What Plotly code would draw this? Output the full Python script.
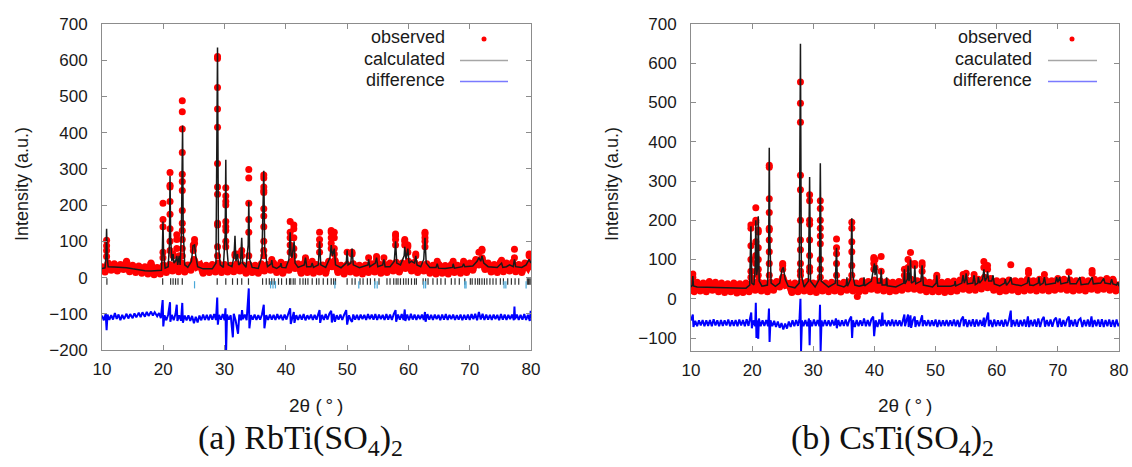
import plotly.graph_objects as go

W, H = 1132, 467

# ---------------- (a) RbTi(SO4)2 ----------------
rb_obs_base = [
    (10.0, 30), (10.5, 15), (11.0, 40), (11.5, 20), (12.0, 38), (12.5, 18), (13.0, 36), (13.5, 22),
    (14.0, 45), (14.5, 16), (15.0, 34), (15.5, 14), (16.0, 32), (16.5, 12), (17.0, 30), (17.5, 10),
    (18.0, 40), (18.5, 8), (19.0, 28), (19.5, 10), (20.0, 35), (20.5, 14), (21.0, 36), (21.5, 18),
    (22.0, 38), (22.5, 16), (23.0, 40), (23.5, 15), (24.0, 35), (24.5, 20), (25.0, 50), (25.5, 30),
    (26.0, 35), (26.5, 12), (27.0, 34), (27.5, 14), (28.0, 36), (28.5, 15), (29.0, 40), (29.5, 14),
    (30.0, 36), (30.5, 15), (31.0, 34), (31.5, 16), (32.0, 38), (32.5, 18), (33.0, 35), (33.5, 12),
    (34.0, 36), (34.5, 14), (35.0, 34), (35.5, 12), (36.0, 38), (36.5, 18), (37.0, 36), (37.5, 20),
    (38.0, 40), (38.5, 14), (39.0, 35), (39.5, 12), (40.0, 36), (40.5, 20), (41.0, 45), (41.5, 25),
    (42.0, 38), (42.5, 12), (43.0, 40), (43.5, 14), (44.0, 38), (44.5, 12), (45.0, 36), (45.5, 15),
    (46.0, 35), (46.5, 12), (47.0, 45), (47.5, 30), (48.0, 48), (48.5, 14), (49.0, 34), (49.5, 10),
    (50.0, 36), (50.5, 15), (51.0, 38), (51.5, 12), (52.0, 34), (52.5, 10), (53.0, 35), (53.5, 14),
    (54.0, 38), (54.5, 15), (55.0, 40), (55.5, 12), (56.0, 38), (56.5, 14), (57.0, 40), (57.5, 18),
    (58.0, 42), (58.5, 15), (59.0, 40), (59.5, 25), (60.0, 45), (60.5, 18), (61.0, 42), (61.5, 14),
    (62.0, 36), (62.5, 18), (63.0, 38), (63.5, 12), (64.0, 34), (64.5, 10), (65.0, 36), (65.5, 12),
    (66.0, 33), (66.5, 10), (67.0, 36), (67.5, 14), (68.0, 34), (68.5, 12), (69.0, 38), (69.5, 14),
    (70.0, 40), (70.5, 20), (71.0, 50), (71.5, 35), (72.0, 55), (72.5, 22), (73.0, 40), (73.5, 15),
    (74.0, 36), (74.5, 14), (75.0, 42), (75.5, 16), (76.0, 40), (76.5, 18), (77.0, 42), (77.5, 16),
    (78.0, 36), (78.5, 14), (79.0, 40), (79.5, 28), (80.0, 45),
]

# observed points climbing the Bragg peaks: 2theta -> intensities
rb_obs_peaks = {
    10.75: [103, 88, 75, 58], 19.95: [205, 160, 140, 70, 55],
    21.1: [290, 255, 250, 210, 175, 135, 100, 75], 21.6: [65, 60], 22.2: [118, 105, 80], 22.6: [60, 55],
    23.1: [488, 458, 410, 345, 285, 265, 240, 185, 150, 130, 105, 80, 60],
    24.9: [90, 85, 75], 25.1: [105, 95],
    28.85: [610, 605, 525, 465, 415, 315, 250, 230, 150, 145, 85, 60],
    30.2: [248, 225, 210, 200, 155, 140, 130, 100, 85], 31.7: [65, 60], 32.1: [65], 32.8: [75, 60],
    33.95: [298, 275, 205, 160, 125, 60],
    36.4: [283, 275, 250, 240, 235, 190, 170, 140, 100, 75, 60], 37.7: [50], 39.2: [42],
    40.7: [155, 125, 110, 90, 70], 41.3: [145, 135, 110, 80, 60], 43.2: [55, 50], 44.3: [45],
    45.5: [125, 105, 90, 70], 47.4: [130, 125, 110, 95, 80], 47.9: [125, 110, 80, 65],
    50.0: [70], 50.8: [70, 65], 53.5: [55], 54.8: [58, 50], 56.0: [55],
    57.9: [120, 115, 105, 90], 59.4: [105, 100, 90], 59.9: [90, 85, 70], 61.2: [65, 60],
    62.7: [125, 120, 110, 100, 85], 64.7: [45], 67.3: [45], 69.0: [45],
    71.5: [70], 72.0: [78, 75], 75.2: [48], 77.3: [78, 55], 79.7: [65, 60],
}

rb_calc = [
    (10.0, 25), (10.5, 27), (10.65, 60), (10.75, 135), (10.85, 55), (11.0, 30), (12.0, 29), (13.0, 29),
    (14.0, 27), (15.0, 24), (16.0, 21), (17.0, 19), (18.0, 18), (19.0, 18), (19.7, 20), (19.85, 80),
    (19.95, 155), (20.05, 70), (20.3, 26), (20.8, 30), (21.0, 90), (21.1, 280), (21.2, 110), (21.4, 45),
    (21.6, 65), (21.75, 40), (22.0, 45), (22.2, 60), (22.35, 35), (22.6, 60), (22.75, 35), (22.95, 120),
    (23.05, 410), (23.15, 420), (23.25, 130), (23.5, 35), (24.0, 28), (24.6, 45), (24.85, 88), (25.1, 90),
    (25.3, 60), (25.6, 30), (26.5, 24), (28.0, 24), (28.6, 40), (28.85, 635), (29.0, 90), (29.3, 35),
    (29.8, 28), (30.1, 120), (30.2, 325), (30.3, 100), (30.6, 35), (31.2, 30), (31.55, 60), (31.7, 115),
    (31.85, 45), (32.1, 65), (32.3, 35), (32.6, 40), (32.8, 110), (32.95, 40), (33.5, 28), (33.85, 90),
    (33.95, 210), (34.1, 50), (34.5, 28), (35.5, 25), (36.1, 60), (36.3, 200), (36.4, 295), (36.55, 80),
    (37.0, 30), (37.6, 38), (37.7, 48), (37.85, 30), (38.5, 25), (39.1, 32), (39.2, 40), (39.35, 28),
    (40.0, 27), (40.5, 50), (40.7, 125), (40.85, 60), (41.0, 55), (41.2, 80), (41.35, 100), (41.5, 40),
    (42.0, 28), (43.0, 35), (43.2, 55), (43.4, 30), (44.1, 30), (44.3, 40), (44.5, 28), (45.3, 35),
    (45.5, 100), (45.7, 35), (46.5, 28), (47.2, 55), (47.4, 90), (47.6, 60), (47.9, 80), (48.1, 35),
    (49.0, 27), (49.85, 40), (50.0, 75), (50.15, 35), (50.6, 40), (50.8, 80), (51.0, 35), (52.0, 27),
    (53.4, 35), (53.5, 50), (53.7, 30), (54.6, 40), (54.8, 55), (55.0, 30), (55.8, 35), (56.0, 50),
    (56.2, 30), (57.0, 30), (57.7, 45), (57.9, 100), (58.1, 40), (58.7, 35), (59.3, 60), (59.4, 85),
    (59.6, 50), (59.9, 80), (60.1, 40), (60.5, 45), (61.0, 40), (61.2, 60), (61.4, 35), (62.0, 30),
    (62.5, 50), (62.7, 110), (62.9, 40), (63.5, 28), (64.5, 28), (64.7, 38), (64.9, 26), (66.0, 25),
    (67.2, 28), (67.3, 38), (67.5, 26), (68.8, 30), (69.0, 38), (69.2, 30), (70.5, 32), (71.2, 45),
    (71.5, 55), (71.8, 45), (72.0, 60), (72.3, 40), (73.0, 30), (74.5, 28), (75.2, 40), (75.4, 28),
    (76.0, 30), (76.5, 35), (77.1, 30), (77.3, 50), (77.5, 30), (78.5, 28), (79.2, 35), (79.7, 50),
    (80.0, 40),
]

rb_diff = [
    (10.0, -105), (10.3, -118), (10.6, -100), (10.75, -145), (10.9, -102), (11.2, -117), (11.5, -104),
    (11.8, -116), (12.1, -98), (12.4, -114), (12.7, -102), (13.0, -118), (13.3, -103), (13.6, -115),
    (14.0, -100), (14.3, -113), (14.6, -101), (15.0, -112), (15.3, -99), (15.6, -110), (16.0, -97),
    (16.3, -109), (16.6, -96), (17.0, -108), (17.3, -95), (17.6, -106), (18.0, -94), (18.3, -105),
    (18.6, -96), (19.0, -107), (19.3, -98), (19.6, -112), (19.9, -62), (20.0, -135), (20.2, -104),
    (20.5, -118), (20.8, -102), (21.1, -68), (21.15, -122), (21.4, -103), (21.7, -118), (22.0, -100),
    (22.2, -75), (22.3, -120), (22.6, -104), (22.9, -119), (23.1, -70), (23.2, -125), (23.5, -105),
    (23.8, -118), (24.1, -104), (24.4, -120), (24.7, -106), (25.0, -126), (25.3, -108), (25.6, -124),
    (25.9, -105), (26.2, -118), (26.5, -102), (26.8, -117), (27.1, -103), (27.4, -118), (27.7, -102),
    (28.0, -116), (28.3, -101), (28.6, -117), (28.8, -55), (28.9, -130), (29.1, -103), (29.4, -116),
    (29.7, -101), (30.0, -118), (30.15, -85), (30.25, -205), (30.4, -102), (30.7, -116), (31.0, -104),
    (31.35, -165), (31.5, -100), (31.8, -118), (32.2, -155), (32.4, -102), (32.7, -118), (32.85, -90),
    (33.0, -115), (33.3, -102), (33.6, -118), (33.95, -30), (34.05, -140), (34.3, -104), (34.6, -116),
    (34.9, -102), (35.2, -117), (35.5, -104), (35.8, -116), (36.1, -102), (36.4, -75), (36.5, -140),
    (36.8, -104), (37.1, -117), (37.4, -102), (37.7, -116), (38.0, -103), (38.3, -117), (38.6, -101),
    (38.9, -115), (39.2, -103), (39.5, -118), (39.8, -102), (40.1, -116), (40.4, -100), (40.7, -85),
    (40.8, -128), (41.1, -102), (41.3, -95), (41.4, -125), (41.7, -104), (42.0, -117), (42.3, -103),
    (42.6, -116), (42.9, -101), (43.2, -118), (43.5, -104), (43.8, -115), (44.1, -102), (44.4, -117),
    (44.7, -103), (45.0, -116), (45.3, -101), (45.5, -90), (45.6, -125), (45.9, -103), (46.2, -117),
    (46.5, -101), (46.8, -116), (47.1, -100), (47.4, -92), (47.5, -124), (47.8, -100), (48.0, -122),
    (48.3, -104), (48.6, -116), (48.9, -102), (49.2, -117), (49.5, -103), (49.85, -90), (50.0, -130),
    (50.3, -104), (50.6, -118), (50.8, -122), (51.0, -102), (51.3, -116), (51.6, -103), (51.9, -117),
    (52.2, -102), (52.5, -115), (52.8, -103), (53.1, -117), (53.4, -101), (53.7, -115), (54.0, -102),
    (54.3, -116), (54.6, -101), (54.9, -117), (55.2, -102), (55.5, -115), (55.8, -103), (56.1, -117),
    (56.4, -101), (56.7, -116), (57.0, -102), (57.3, -117), (57.6, -101), (57.9, -90), (58.0, -122),
    (58.3, -102), (58.6, -116), (58.9, -101), (59.2, -117), (59.4, -88), (59.5, -120), (59.8, -102),
    (60.1, -118), (60.4, -100), (60.7, -116), (61.0, -102), (61.3, -117), (61.6, -103), (61.9, -115),
    (62.2, -102), (62.5, -117), (62.7, -95), (62.8, -122), (63.1, -101), (63.4, -116), (63.7, -103),
    (64.0, -117), (64.3, -102), (64.6, -115), (64.9, -103), (65.2, -118), (65.5, -102), (65.8, -116),
    (66.1, -101), (66.4, -117), (66.7, -103), (67.0, -115), (67.3, -102), (67.6, -117), (67.9, -104),
    (68.2, -116), (68.5, -102), (68.8, -118), (69.1, -103), (69.4, -116), (69.7, -102), (70.0, -117),
    (70.3, -101), (70.6, -115), (70.9, -100), (71.2, -118), (71.5, -95), (71.8, -116), (72.1, -100),
    (72.4, -117), (72.7, -102), (73.0, -116), (73.3, -103), (73.6, -117), (73.9, -102), (74.2, -115),
    (74.5, -103), (74.8, -118), (75.1, -101), (75.4, -116), (75.7, -102), (76.0, -117), (76.3, -103),
    (76.6, -115), (76.9, -102), (77.2, -118), (77.3, -80), (77.4, -115), (77.7, -102), (78.0, -117),
    (78.3, -103), (78.6, -116), (78.9, -101), (79.2, -117), (79.5, -103), (79.8, -120), (79.95, -92),
    (80.0, -112),
]

# Bragg reflection markers (main phase, second phase)
rb_hkl_main = [
    10.8, 19.9, 21.2, 21.6, 22.0, 22.4, 23.1, 28.8, 30.2, 31.3, 32.1, 32.8, 33.9, 36.2, 36.8, 37.3,
    37.7, 38.1, 38.8, 39.3, 40.1, 40.6, 40.8, 41.2, 41.5, 42.3, 42.8, 43.2, 43.6, 44.3, 45.0, 45.4,
    46.1, 46.8, 47.4, 47.8, 48.1, 50.0, 50.8, 51.3, 52.1, 52.6, 53.3, 53.8, 54.5, 55.2, 56.5, 57.0,
    57.6, 58.0, 58.3, 58.7, 59.2, 59.6, 60.0, 60.5, 61.0, 61.3, 62.4, 62.8, 63.2, 64.0, 64.7, 65.3,
    66.0, 67.0, 67.6, 68.3, 69.2, 70.1, 70.4, 70.9, 71.3, 71.6, 72.0, 72.4, 72.8, 73.3, 73.8, 74.3,
    75.0, 75.5, 76.2, 76.8, 77.4, 78.0, 79.4, 79.6, 79.8, 80.0,
]
rb_hkl_second = [25.1, 37.5, 37.9, 38.3, 48.0, 51.9, 54.5, 54.9, 62.5, 62.8, 69.2, 69.4, 75.6, 75.9, 79.2]

# ---------------- (b) CsTi(SO4)2 ----------------
cs_obs_base = [
    (10.0, 40), (10.5, 18), (11.0, 42), (11.5, 20), (12.0, 40), (12.5, 18), (13.0, 44), (13.5, 22),
    (14.0, 42), (14.5, 18), (15.0, 40), (15.5, 16), (16.0, 38), (16.5, 18), (17.0, 40), (17.5, 15),
    (18.0, 38), (18.5, 16), (19.0, 40), (19.5, 18), (20.0, 42), (20.5, 22), (21.0, 45), (21.5, 20),
    (22.0, 40), (22.5, 18), (23.0, 42), (23.5, 22), (24.0, 44), (24.5, 30), (25.0, 55), (25.5, 35),
    (26.0, 38), (26.5, 16), (27.0, 40), (27.5, 18), (28.0, 42), (28.5, 20), (29.0, 44), (29.5, 18),
    (30.0, 40), (30.5, 16), (31.0, 42), (31.5, 20), (32.0, 40), (32.5, 18), (33.0, 42), (33.5, 20),
    (34.0, 40), (34.5, 17), (35.0, 42), (35.5, 22), (36.0, 44), (36.5, 20), (37.0, 40), (37.5, 18),
    (38.0, 45), (38.5, 20), (39.0, 44), (39.5, 24), (40.0, 48), (40.5, 22), (41.0, 45), (41.5, 20),
    (42.0, 44), (42.5, 18), (43.0, 42), (43.5, 20), (44.0, 44), (44.5, 22), (45.0, 48), (45.5, 25),
    (46.0, 50), (46.5, 24), (47.0, 46), (47.5, 22), (48.0, 48), (48.5, 18), (49.0, 42), (49.5, 18),
    (50.0, 44), (50.5, 18), (51.0, 42), (51.5, 16), (52.0, 44), (52.5, 18), (53.0, 45), (53.5, 20),
    (54.0, 48), (54.5, 24), (55.0, 50), (55.5, 22), (56.0, 48), (56.5, 22), (57.0, 50), (57.5, 25),
    (58.0, 55), (58.5, 28), (59.0, 52), (59.5, 22), (60.0, 46), (60.5, 18), (61.0, 45), (61.5, 20),
    (62.0, 48), (62.5, 22), (63.0, 46), (63.5, 18), (64.0, 45), (64.5, 20), (65.0, 50), (65.5, 22),
    (66.0, 46), (66.5, 20), (67.0, 50), (67.5, 22), (68.0, 48), (68.5, 20), (69.0, 46), (69.5, 22),
    (70.0, 52), (70.5, 24), (71.0, 50), (71.5, 22), (72.0, 48), (72.5, 20), (73.0, 46), (73.5, 22),
    (74.0, 48), (74.5, 20), (75.0, 46), (75.5, 24), (76.0, 50), (76.5, 22), (77.0, 48), (77.5, 24),
    (78.0, 52), (78.5, 22), (79.0, 50), (79.5, 20), (80.0, 36),
]

cs_obs_peaks = {
    10.3: [63, 55], 19.8: [188, 180, 135, 100, 70, 55], 20.6: [232, 200, 195, 145, 110, 90, 70],
    21.0: [175, 170, 130, 100, 75, 60], 22.8: [340, 335, 255, 220, 180, 175, 150, 120, 90, 60],
    25.0: [90, 85, 75], 27.9: [552, 498, 450, 315, 278, 200, 150, 125, 90, 70, 60],
    29.4: [265, 250, 200, 190, 150, 110, 80, 70], 31.15: [250, 230, 200, 180, 160, 140, 100, 75, 55],
    33.8: [152, 130, 115, 90, 60], 36.3: [195, 180, 145, 120, 85, 60], 37.2: [6],
    39.9: [105, 100, 90, 75], 40.1: [100, 80], 41.1: [108, 70], 44.9: [75, 60], 45.5: [100, 80],
    45.9: [118, 90], 46.6: [90, 85], 47.8: [92, 85, 70], 50.2: [60, 55], 54.5: [62], 55.0: [65],
    56.3: [62], 57.9: [95, 80], 58.5: [85, 75], 62.3: [87], 65.2: [72, 65], 67.8: [62], 71.8: [68],
    75.6: [72, 65],
}

cs_calc = [
    (10.0, 30), (10.2, 35), (10.3, 58), (10.4, 33), (11.0, 30), (13.0, 29), (15.0, 28), (17.0, 27),
    (19.0, 27), (19.6, 35), (19.8, 185), (19.95, 40), (20.3, 35), (20.5, 80), (20.6, 200), (20.75, 60),
    (20.9, 80), (21.0, 210), (21.15, 45), (21.6, 32), (22.5, 35), (22.7, 120), (22.8, 385), (22.9, 150),
    (23.1, 40), (23.8, 32), (24.5, 40), (24.9, 75), (25.1, 80), (25.4, 50), (25.9, 32), (27.0, 28),
    (27.7, 40), (27.9, 650), (28.05, 60), (28.5, 30), (29.2, 45), (29.4, 310), (29.55, 45), (30.3, 30),
    (31.0, 50), (31.15, 345), (31.3, 45), (32.5, 30), (33.6, 40), (33.8, 130), (33.95, 35), (35.0, 30),
    (35.4, 35), (35.5, 55), (35.6, 32), (36.1, 50), (36.3, 205), (36.45, 60), (36.8, 35), (37.5, 32),
    (38.2, 35), (38.3, 55), (38.4, 33), (39.5, 45), (39.8, 80), (40.0, 90), (40.1, 60), (40.3, 85),
    (40.5, 40), (41.0, 40), (41.1, 75), (41.25, 35), (41.9, 35), (42.0, 55), (42.1, 33), (43.5, 30),
    (44.8, 40), (44.9, 75), (45.0, 38), (45.4, 50), (45.5, 85), (45.65, 45), (45.8, 55), (45.9, 100),
    (46.05, 40), (46.5, 45), (46.6, 85), (46.75, 38), (47.6, 45), (47.8, 85), (48.0, 35), (49.5, 30),
    (50.1, 40), (50.2, 60), (50.35, 32), (52.5, 32), (53.1, 35), (53.2, 45), (53.3, 33), (54.3, 40),
    (54.5, 60), (54.7, 40), (54.9, 50), (55.0, 65), (55.2, 38), (56.1, 40), (56.3, 60), (56.5, 36),
    (56.9, 40), (57.0, 55), (57.2, 40), (57.7, 50), (57.9, 75), (58.1, 45), (58.4, 55), (58.5, 70),
    (58.7, 45), (59.2, 45), (59.4, 60), (59.6, 38), (60.5, 33), (61.3, 40), (61.4, 50), (61.6, 34),
    (62.1, 45), (62.3, 55), (62.5, 38), (64.0, 33), (65.0, 40), (65.2, 55), (65.4, 35), (66.0, 34),
    (66.8, 40), (66.9, 55), (67.1, 35), (67.6, 40), (67.8, 55), (68.0, 36), (69.6, 40), (69.8, 55),
    (70.0, 42), (70.3, 55), (70.5, 38), (71.6, 42), (71.8, 60), (72.0, 38), (73.0, 38), (73.6, 55),
    (73.8, 36), (75.0, 38), (75.6, 55), (75.8, 38), (77.0, 40), (77.5, 52), (77.7, 40), (78.6, 38),
    (78.8, 50), (79.0, 38), (79.6, 35), (79.8, 42), (80.0, 32),
]

cs_diff = [
    (10.0, -55), (10.3, -40), (10.4, -72), (10.7, -56), (11.0, -70), (11.3, -55), (11.6, -68), (11.9, -54),
    (12.2, -70), (12.5, -55), (12.8, -69), (13.1, -54), (13.4, -70), (13.7, -52), (14.0, -68), (14.3, -55),
    (14.6, -70), (14.9, -54), (15.2, -69), (15.5, -55), (15.8, -68), (16.1, -53), (16.4, -70), (16.7, -55),
    (17.0, -69), (17.3, -54), (17.6, -70), (17.9, -53), (18.2, -68), (18.5, -54), (18.8, -70), (19.1, -52),
    (19.4, -69), (19.7, -50), (19.85, -35), (19.95, -75), (20.2, -55), (20.5, -70), (20.6, -10), (20.7, -100),
    (20.85, -55), (21.0, -102), (21.1, -50), (21.4, -70), (21.7, -55), (22.0, -69), (22.3, -54), (22.6, -70),
    (22.75, -25), (22.85, -110), (23.0, -55), (23.3, -70), (23.6, -56), (23.9, -72), (24.2, -58), (24.5, -74),
    (24.8, -62), (25.1, -78), (25.4, -63), (25.7, -76), (26.0, -58), (26.3, -72), (26.6, -55), (26.9, -70),
    (27.2, -54), (27.5, -69), (27.75, -50), (27.9, 0), (28.0, -133), (28.15, -55), (28.4, -70), (28.7, -54),
    (29.0, -70), (29.3, -50), (29.4, -118), (29.5, -55), (29.8, -70), (30.1, -53), (30.4, -69), (30.7, -54),
    (31.0, -70), (31.1, -15), (31.2, -133), (31.35, -55), (31.6, -70), (31.9, -54), (32.2, -69), (32.5, -55),
    (32.8, -70), (33.1, -54), (33.4, -68), (33.7, -50), (33.85, -75), (34.1, -54), (34.4, -70), (34.7, -55),
    (35.0, -69), (35.3, -53), (35.6, -70), (35.9, -54), (36.2, -45), (36.35, -100), (36.5, -55), (36.8, -72),
    (37.1, -54), (37.4, -70), (37.7, -55), (38.0, -69), (38.3, -50), (38.6, -70), (38.9, -54), (39.2, -70),
    (39.5, -52), (39.8, -45), (39.95, -95), (40.2, -55), (40.5, -72), (40.8, -53), (41.1, -70), (41.3, -35),
    (41.4, -68), (41.7, -54), (42.0, -70), (42.3, -55), (42.6, -69), (42.9, -53), (43.2, -70), (43.5, -54),
    (43.8, -69), (44.1, -55), (44.4, -70), (44.7, -52), (44.9, -40), (45.0, -70), (45.3, -53), (45.5, -40),
    (45.6, -72), (45.9, -42), (46.0, -74), (46.3, -54), (46.6, -45), (46.7, -72), (47.0, -55), (47.3, -70),
    (47.6, -53), (47.8, -42), (47.9, -70), (48.2, -55), (48.5, -69), (48.8, -54), (49.1, -70), (49.4, -55),
    (49.7, -69), (50.0, -53), (50.3, -72), (50.6, -54), (50.9, -70), (51.2, -55), (51.5, -69), (51.8, -54),
    (52.1, -70), (52.4, -55), (52.7, -69), (53.0, -53), (53.3, -70), (53.6, -54), (53.9, -72), (54.2, -53),
    (54.5, -45), (54.6, -70), (54.9, -52), (55.2, -72), (55.5, -54), (55.8, -70), (56.1, -52), (56.4, -71),
    (56.7, -53), (57.0, -70), (57.3, -54), (57.6, -69), (57.9, -48), (58.0, -72), (58.3, -53), (58.6, -35),
    (58.7, -70), (59.0, -54), (59.3, -72), (59.6, -53), (59.9, -70), (60.2, -55), (60.5, -69), (60.8, -54),
    (61.1, -71), (61.4, -53), (61.7, -70), (62.0, -54), (62.3, -30), (62.4, -72), (62.7, -54), (63.0, -70),
    (63.3, -53), (63.6, -71), (63.9, -54), (64.2, -70), (64.5, -53), (64.8, -71), (65.1, -45), (65.3, -72),
    (65.6, -54), (65.9, -70), (66.2, -53), (66.5, -71), (66.8, -50), (67.1, -72), (67.4, -54), (67.7, -46),
    (67.9, -71), (68.2, -54), (68.5, -70), (68.8, -53), (69.1, -71), (69.4, -54), (69.7, -48), (70.0, -72),
    (70.3, -50), (70.6, -71), (70.9, -54), (71.2, -70), (71.5, -53), (71.8, -45), (71.9, -72), (72.2, -54),
    (72.5, -70), (72.8, -53), (73.1, -71), (73.4, -54), (73.7, -50), (74.0, -72), (74.3, -54), (74.6, -70),
    (74.9, -53), (75.2, -71), (75.5, -45), (75.7, -72), (76.0, -54), (76.3, -70), (76.6, -53), (76.9, -71),
    (77.2, -52), (77.5, -72), (77.8, -54), (78.1, -70), (78.4, -53), (78.7, -71), (79.0, -54), (79.3, -72),
    (79.6, -53), (79.9, -70), (80.0, -62),
]

x_ticks = [10, 20, 30, 40, 50, 60, 70, 80]
rb_y_ticks = [-200, -100, 0, 100, 200, 300, 400, 500, 600, 700]
cs_y_ticks = [-100, 0, 100, 200, 300, 400, 500, 600, 700]

RED = "#ff0000"
FONT = "Liberation Sans"


def unzip(pairs):
    return [p[0] for p in pairs], [p[1] for p in pairs]


def peak_points(peaks):
    xs, ys = [], []
    for pos, vals in peaks.items():
        xs += [pos] * len(vals)
        ys += vals
    return xs, ys


def tick_lines(positions, y0, y1):
    xs, ys = [], []
    for p in positions:
        xs += [p, p, None]
        ys += [y0, y1, None]
    return xs, ys


def add_panel(fig, obs_base, obs_peaks, calc, diff, xa, ya):
    bx, by = unzip(obs_base)
    fig.add_trace(go.Scatter(x=bx, y=by, mode="lines+markers", xaxis=xa, yaxis=ya,
                             line=dict(color=RED, width=7), marker=dict(color=RED, size=7)))
    px, py = peak_points(obs_peaks)
    fig.add_trace(go.Scatter(x=px, y=py, mode="markers", xaxis=xa, yaxis=ya,
                             marker=dict(color=RED, size=7)))
    cx, cy = unzip(calc)
    fig.add_trace(go.Scatter(x=cx, y=cy, mode="lines", xaxis=xa, yaxis=ya,
                             line=dict(color="#1a1a1a", width=1.5)))
    dx, dy = unzip(diff)
    fig.add_trace(go.Scatter(x=dx, y=dy, mode="lines", xaxis=xa, yaxis=ya,
                             line=dict(color="#0000ff", width=2)))


fig = go.Figure()
add_panel(fig, rb_obs_base, rb_obs_peaks, rb_calc, rb_diff, "x", "y")
tx, ty = tick_lines(rb_hkl_main, -2, -20)
fig.add_trace(go.Scatter(x=tx, y=ty, mode="lines", line=dict(color="#333333", width=1.2)))
tx, ty = tick_lines(rb_hkl_second, -10, -30)
fig.add_trace(go.Scatter(x=tx, y=ty, mode="lines", line=dict(color="#4aa8d8", width=1.2)))
add_panel(fig, cs_obs_base, cs_obs_peaks, cs_calc, cs_diff, "x2", "y2")


# pixel helpers for paper coordinates
def px(x):
    return x / W


def py(y):
    return 1 - y / H


axis_style = dict(showline=True, linecolor="#8c8c8c", linewidth=1, mirror="ticks", ticks="inside",
                  ticklen=5, tickcolor="#8c8c8c", showgrid=False, zeroline=False, automargin=False,
                  tickfont=dict(family=FONT, size=17, color="#1a1a1a"))

fig.update_layout(
    width=W, height=H, margin=dict(l=0, r=0, t=0, b=0, autoexpand=False),
    paper_bgcolor="white", plot_bgcolor="white", showlegend=False,
    xaxis=dict(domain=[px(102), px(531)], range=[10, 80], tickvals=x_ticks, anchor="y",
               ticklabelstandoff=4, **axis_style),
    yaxis=dict(domain=[py(350), py(24)], range=[-200, 700], tickvals=rb_y_ticks, anchor="x",
               ticklabelstandoff=10, **axis_style),
    xaxis2=dict(domain=[px(691), px(1119)], range=[10, 80], tickvals=x_ticks, anchor="y2",
                ticklabelstandoff=4, **axis_style),
    yaxis2=dict(domain=[py(351), py(24)], range=[-133, 700], tickvals=cs_y_ticks, anchor="x2",
                ticklabelstandoff=10, **axis_style),
)

txt = dict(family=FONT, size=18, color="#1a1a1a")
ann = []


def note(x, y, text, font, **kw):
    d = dict(x=px(x), y=py(y), xref="paper", yref="paper", text=text, showarrow=False,
             xanchor="center", yanchor="middle", font=font)
    d.update(kw)
    ann.append(d)


# axis titles
for xc in (22, 612):
    note(xc, 184, "Intensity (a.u.)", txt, textangle=-90)
for xc in (316, 905):
    note(xc, 405, "2θ (\u2009°\u2009)", dict(family=FONT, size=19, color="#1a1a1a"))
# captions
serif = dict(family="Liberation Serif", size=34, color="#111111")
note(300, 440, "(a) RbTi(SO<sub>4</sub>)<sub>2</sub>", serif)
note(892, 440, "(b) CsTi(SO<sub>4</sub>)<sub>2</sub>", serif)

# hand-drawn legends (text right-aligned, symbol on the right, as in gnuplot)
shapes = []
legends = [
    (447, 484, 460, 508, ["observed", "calculated", "difference"]),
    (1034, 1072, 1048, 1097, ["observed", "caculated", "difference"]),
]
for tx_right, dot_x, l0, l1, labels in legends:
    for lab, yc in zip(labels, (37, 59, 80)):
        note(tx_right, yc, lab, dict(family=FONT, size=18, color="#1a1a1a"), xanchor="right")
    shapes.append(dict(type="circle", xref="paper", yref="paper", x0=px(dot_x - 2.5), x1=px(dot_x + 2.5),
                       y0=py(41.5), y1=py(36.5), fillcolor=RED, line=dict(width=0)))
    shapes.append(dict(type="line", xref="paper", yref="paper", x0=px(l0), x1=px(l1),
                       y0=py(60.5), y1=py(60.5), line=dict(color="#a6a6a6", width=1.5)))
    shapes.append(dict(type="line", xref="paper", yref="paper", x0=px(l0), x1=px(l1),
                       y0=py(81.5), y1=py(81.5), line=dict(color="#7a7aff", width=1.5)))

fig.update_layout(annotations=ann, shapes=shapes)
# the page's default 8px body margin would shift the figure; drop it
fig.write_html("out.html", config={"displayModeBar": False},
               post_script="document.body.style.margin='0';")
